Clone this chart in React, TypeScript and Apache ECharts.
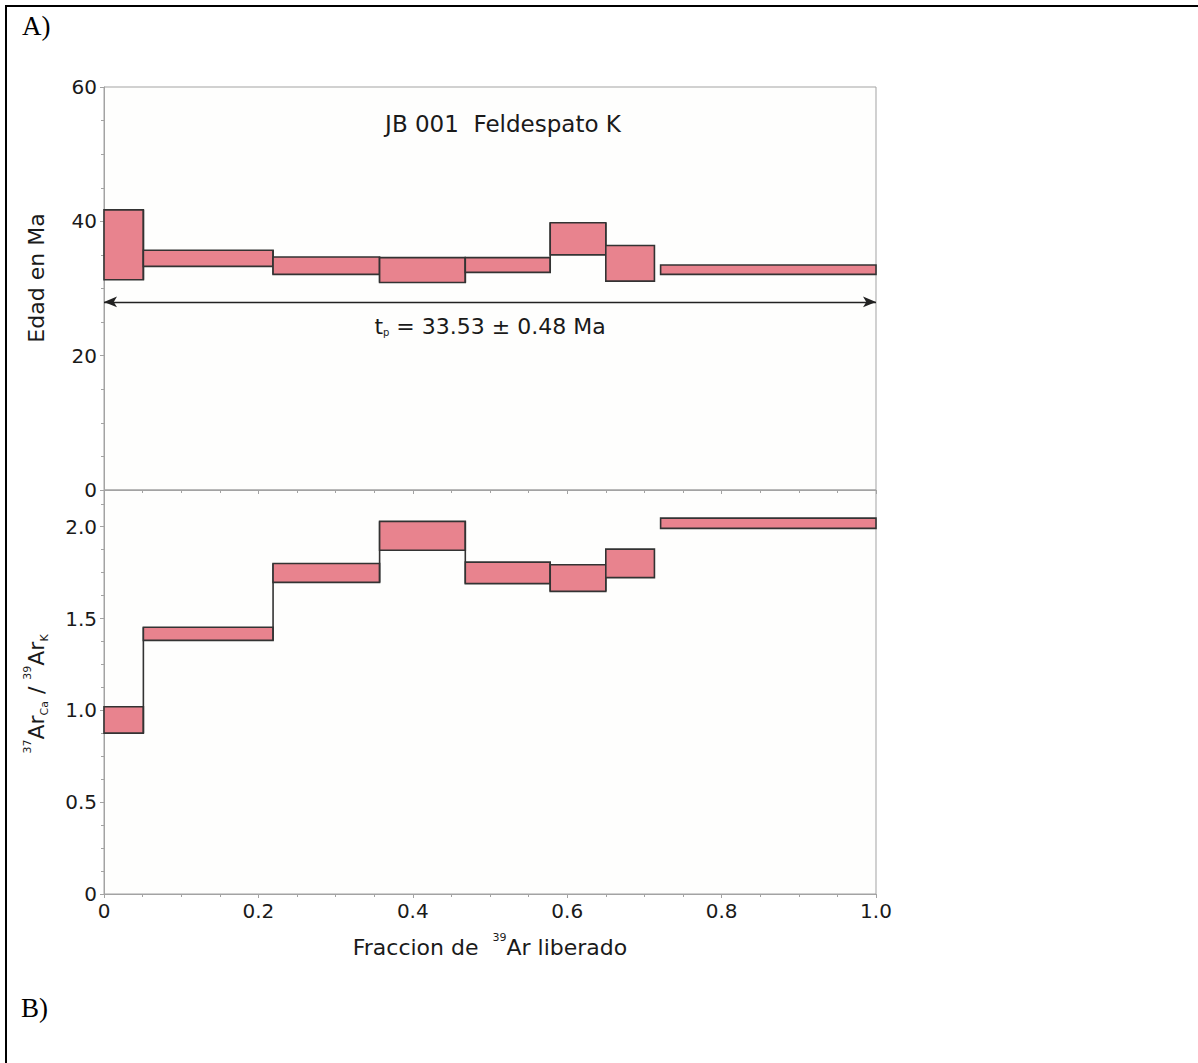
import React, { useEffect, useRef } from "react";
import * as echarts from "echarts";

// Fraction of 39Ar released: step boundaries
const stepX0 = [0, 0.051, 0.219, 0.357, 0.468, 0.578, 0.65, 0.721];
const stepX1 = [0.051, 0.219, 0.357, 0.468, 0.578, 0.65, 0.713, 1.0];

// Age (Ma) spectrum: lower / upper error bounds
const ageLo = [31.3, 33.3, 32.1, 30.9, 32.4, 35.0, 31.1, 32.1];
const ageHi = [41.7, 35.7, 34.7, 34.6, 34.6, 39.8, 36.4, 33.5];

// 37ArCa / 39ArK: lower / upper bounds
const ratioLo = [0.876, 1.381, 1.697, 1.872, 1.69, 1.648, 1.723, 1.991];
const ratioHi = [1.02, 1.453, 1.8, 2.029, 1.807, 1.793, 1.878, 2.047];

// Plateau
const plateauFrom = 0;
const plateauTo = 1.0;
const plateauLevel = 28.0;
const plateauAge = "33.53";
const plateauErr = "0.48";

const xTicks = [0, 0.2, 0.4, 0.6, 0.8, 1.0];
const sampleTitle = "JB 001  Feldespato K";

const FONT = "DejaVu Sans";
const FILL = "#e8838e";
const EDGE = "#333333";
const AXIS = "#a3a3a3";

function makeRender(lo: number[], hi: number[]) {
  return (params: any, api: any) => {
    const i = params.dataIndex;
    const x0 = api.value(0);
    const x1 = api.value(1);
    const l = api.value(2);
    const h = api.value(3);
    const p0 = api.coord([x0, h]);
    const p1 = api.coord([x1, l]);
    const children: any[] = [
      {
        type: "rect",
        shape: { x: p0[0], y: p0[1], width: p1[0] - p0[0], height: p1[1] - p0[1] },
        style: { fill: FILL, stroke: EDGE, lineWidth: 1.6 },
      },
    ];
    if (i + 1 < lo.length && stepX0[i + 1] === x1) {
      const a = api.coord([x1, Math.min(l, lo[i + 1])]);
      const b = api.coord([x1, Math.max(h, hi[i + 1])]);
      children.push({
        type: "line",
        shape: { x1: a[0], y1: a[1], x2: b[0], y2: b[1] },
        style: { stroke: EDGE, lineWidth: 1.6 },
      });
    }
    return { type: "group", children };
  };
}

export default function App() {
  const ref = useRef<HTMLDivElement>(null);

  useEffect(() => {
    if (!ref.current) return;
    const chart = echarts.init(ref.current, undefined, { renderer: "svg" });

    const ageData = stepX0.map((x, i) => [x, stepX1[i], ageLo[i], ageHi[i]]);
    const ratioData = stepX0.map((x, i) => [x, stepX1[i], ratioLo[i], ratioHi[i]]);

    const commonAxisLine = { show: true, lineStyle: { color: AXIS, width: 1 } };
    const commonTick = { show: true, length: 4, lineStyle: { color: AXIS } };
    const commonMinor = { show: true, splitNumber: 4, length: 3, lineStyle: { color: AXIS } };

    const option: any = {
      animation: false,
      backgroundColor: "transparent",
      grid: [
        { left: 104, top: 87, width: 772, height: 403, show: true, borderColor: AXIS, borderWidth: 1, backgroundColor: "#fefefd" },
        { left: 104, top: 490, width: 772, height: 404, show: true, borderColor: AXIS, borderWidth: 1, backgroundColor: "#fefefd" },
      ],
      xAxis: [
        {
          type: "value", gridIndex: 0, min: 0, max: 1, interval: 0.2,
          axisLine: commonAxisLine, axisTick: commonTick, minorTick: commonMinor,
          axisLabel: { show: false }, splitLine: { show: false },
        },
        {
          type: "value", gridIndex: 1, min: 0, max: 1, interval: 0.2,
          axisLine: commonAxisLine, axisTick: commonTick, minorTick: commonMinor,
          splitLine: { show: false },
          axisLabel: {
            show: true, margin: 7, color: "#1a1a1a", fontFamily: FONT, fontSize: 20,
            formatter: (v: number) => {
              const t = xTicks.find((k) => Math.abs(k - v) < 1e-9);
              if (t === undefined) return "";
              return t === 0 ? "0" : t.toFixed(1);
            },
          },
          name: "{n|Fraccion de  }{s|39}{n|Ar liberado}",
          nameLocation: "middle",
          nameGap: 38,
          nameTextStyle: {
            rich: {
              n: { fontFamily: FONT, fontSize: 22, color: "#1a1a1a", verticalAlign: "bottom", lineHeight: 26 },
              s: { fontFamily: FONT, fontSize: 11, color: "#1a1a1a", verticalAlign: "top", lineHeight: 26, padding: [0, 0, 12, 0] },
            },
          },
        },
      ],
      yAxis: [
        {
          type: "value", gridIndex: 0, min: 0, max: 60, interval: 20,
          axisLine: commonAxisLine, axisTick: commonTick, minorTick: commonMinor,
          splitLine: { show: false },
          axisLabel: { margin: 7, color: "#1a1a1a", fontFamily: FONT, fontSize: 20 },
        },
        {
          type: "value", gridIndex: 1, min: 0, max: 2.2, interval: 0.5,
          axisLine: commonAxisLine, axisTick: commonTick, minorTick: commonMinor,
          splitLine: { show: false },
          axisLabel: {
            margin: 7, color: "#1a1a1a", fontFamily: FONT, fontSize: 20, showMaxLabel: false,
            formatter: (v: number) => {
              if (Math.abs(v / 0.5 - Math.round(v / 0.5)) > 1e-6) return "";
              return v === 0 ? "0" : v.toFixed(1);
            },
          },
        },
      ],
      series: [
        {
          type: "custom",
          xAxisIndex: 0,
          yAxisIndex: 0,
          renderItem: makeRender(ageLo, ageHi),
          data: ageData,
          encode: { x: [0, 1], y: [2, 3] },
          markLine: {
            silent: true,
            symbol: ["arrow", "arrow"],
            symbolSize: [8, 13],
            lineStyle: { color: "#222", width: 1.3, type: "solid" },
            label: {
              show: true,
              position: "insideMiddleBottom",
              distance: 14,
              formatter: `{t|t}{p|p}{n| = ${plateauAge} ± ${plateauErr} Ma}`,
              rich: {
                t: { fontFamily: FONT, fontSize: 22, color: "#1a1a1a" },
                p: { fontFamily: FONT, fontSize: 10, color: "#1a1a1a", verticalAlign: "bottom", padding: [10, 0, 0, 0] },
                n: { fontFamily: FONT, fontSize: 22, color: "#1a1a1a" },
              },
            },
            data: [[{ coord: [plateauFrom, plateauLevel] }, { coord: [plateauTo, plateauLevel] }]],
          },
        },
        {
          type: "custom",
          xAxisIndex: 1,
          yAxisIndex: 1,
          renderItem: makeRender(ratioLo, ratioHi),
          data: ratioData,
          encode: { x: [0, 1], y: [2, 3] },
        },
      ],
      graphic: [
        {
          type: "text", left: 22, top: 12,
          style: { text: "A)", fontFamily: "Liberation Serif", fontSize: 27, fill: "#000" },
        },
        {
          type: "text", left: 21, top: 994,
          style: { text: "B)", fontFamily: "Liberation Serif", fontSize: 27, fill: "#000" },
        },
        {
          type: "text", x: 503, y: 124,
          style: { text: sampleTitle, fontFamily: FONT, fontSize: 23, fill: "#1a1a1a", align: "center", verticalAlign: "middle" },
        },
        {
          type: "text", x: 36, y: 278, rotation: Math.PI / 2,
          style: { text: "Edad en Ma", fontFamily: FONT, fontSize: 22, fill: "#1a1a1a", align: "center", verticalAlign: "middle" },
        },
        {
          type: "text", x: 36, y: 694, rotation: Math.PI / 2,
          style: {
            text: "{s|37}{n|Ar}{b|Ca}{n| / }{s|39}{n|Ar}{b|K}",
            align: "center", verticalAlign: "middle",
            rich: {
              n: { fontFamily: FONT, fontSize: 22, fill: "#1a1a1a", lineHeight: 28, verticalAlign: "middle" },
              s: { fontFamily: FONT, fontSize: 11, fill: "#1a1a1a", lineHeight: 28, verticalAlign: "top" },
              b: { fontFamily: FONT, fontSize: 11, fill: "#1a1a1a", lineHeight: 28, verticalAlign: "bottom" },
            },
          },
        },
      ],
    };

    chart.setOption(option);
    return () => chart.dispose();
  }, []);

  return (
    <div style={{ position: "absolute", left: 0, top: 0, width: 1198, height: 1063, background: "#fff" }}>
      <div ref={ref} style={{ position: "absolute", left: 0, top: 0, width: 1198, height: 1063 }} />
      <div
        style={{
          position: "absolute", left: 5, top: 5, right: 0, bottom: 0,
          borderLeft: "2px solid #000", borderTop: "2px solid #000",
          pointerEvents: "none",
        }}
      />
    </div>
  );
}
